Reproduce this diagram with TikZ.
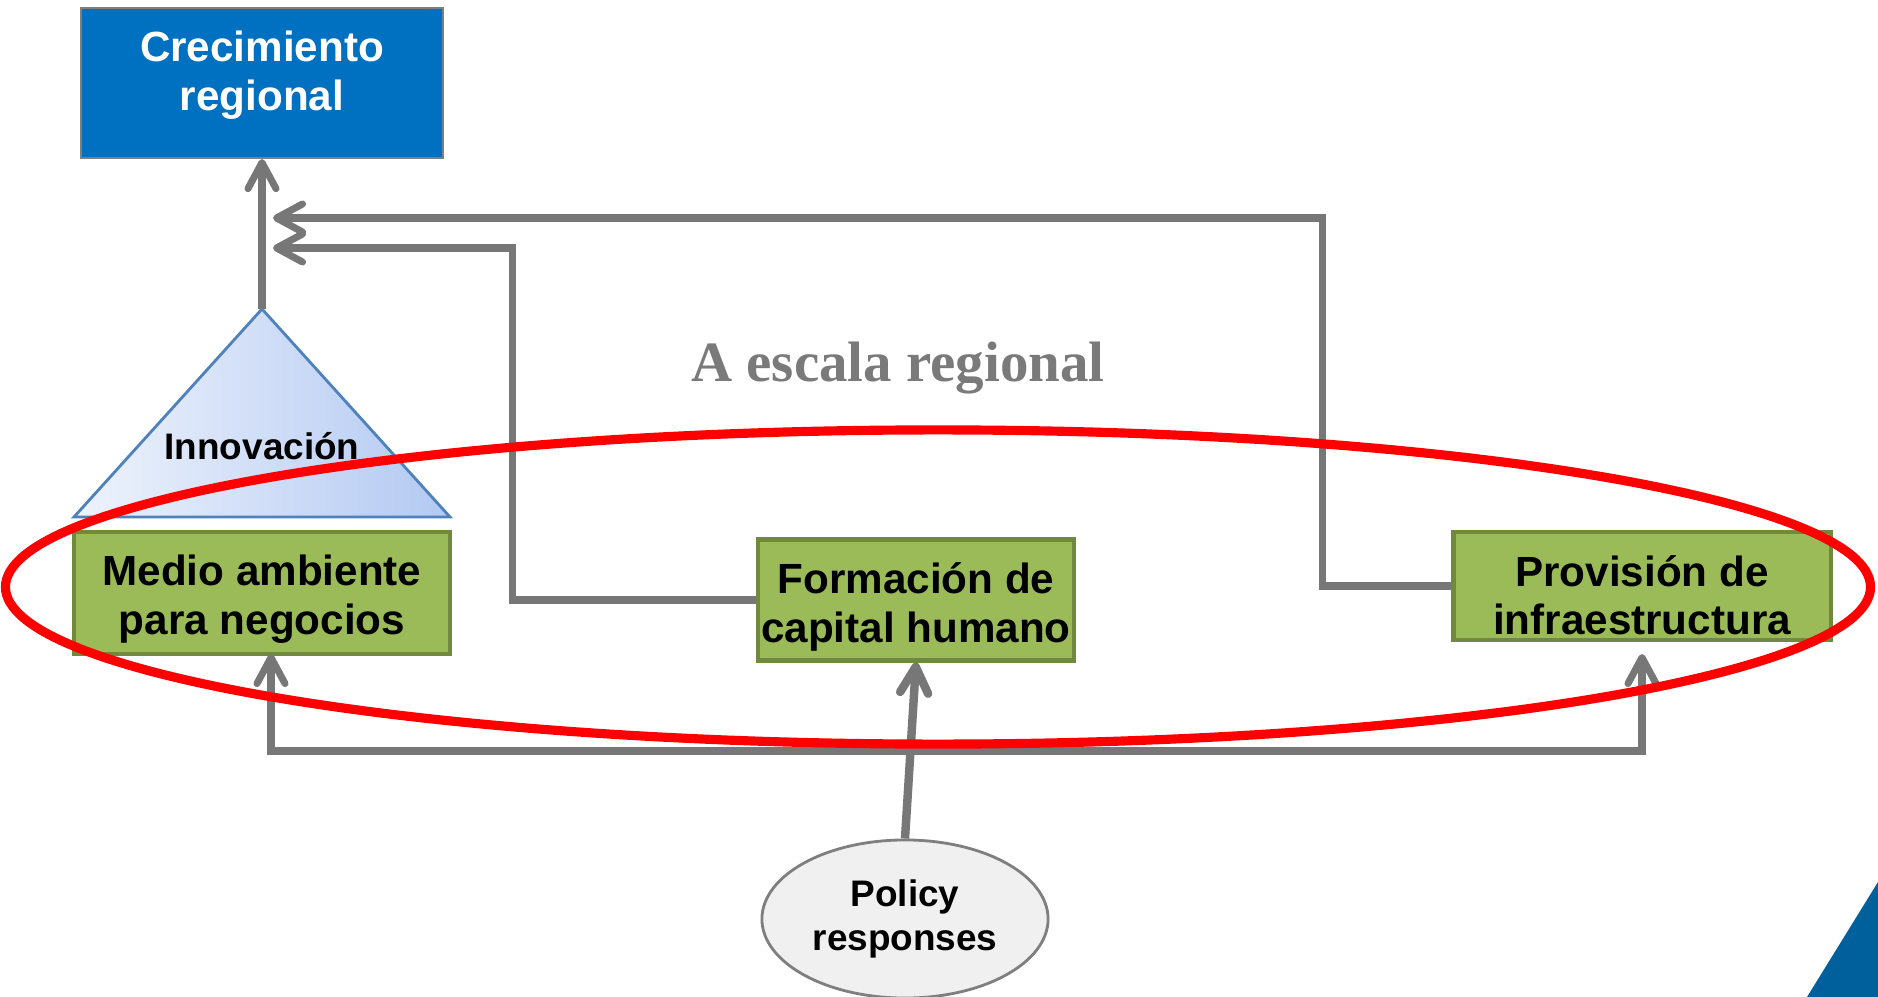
\documentclass[tikz,border=0pt]{standalone}
\usepackage{fontspec}
\setmainfont{Liberation Sans}
\newfontfamily\escala{Liberation Serif}
\usepackage{xcolor}
\definecolor{growblue}{HTML}{0070C0}
\definecolor{leaf}{HTML}{9BBB59}
\definecolor{leafedge}{HTML}{71893F}
\definecolor{flowgray}{HTML}{777777}
\definecolor{escgray}{HTML}{7A7A7A}
\definecolor{trilight}{HTML}{EEF3FC}
\definecolor{tridark}{HTML}{B3C9F2}
\definecolor{triedge}{HTML}{4F81BD}
\definecolor{polfill}{HTML}{F0F0F0}
\definecolor{poledge}{HTML}{7F7F7F}
\definecolor{corner}{HTML}{00609C}
\usetikzlibrary{arrows.meta,shapes.geometric}

\begin{document}
\begin{tikzpicture}[x=0.01cm, y=-0.01cm,
    >={Straight Barb[length=2.6mm,width=2.8mm,round]},
    flow/.style={draw=flowgray, line width=2pt},
    leafbox/.style={draw=leafedge, line width=1.2pt, fill=leaf, inner sep=0pt},
    boxtext/.style={align=center, inner sep=0pt, font=\fontsize{12}{13.8}\selectfont\bfseries},
    growbox/.style={draw=poledge, line width=0.6pt, fill=growblue,
      minimum width=3.62cm, minimum height=1.50cm},
    ring/.style={ellipse, draw=red, line width=2.6pt, inner sep=0pt}]
  \useasboundingbox (0,0) rectangle (1878,997);

  % goal
  \node[growbox] (grow) at (262,83) {};
  \node[boxtext, text=white] (growtext) at (262,75) {Crecimiento\\regional};

  % innovation triangle
  \coordinate (apex) at (262,309);
  \shadedraw[left color=trilight, right color=tridark, draw=triedge, line width=0.8pt]
    (apex) -- (450,517) -- (74,517) -- cycle;
  \node[font=\fontsize{10.5}{12}\selectfont\bfseries] (innov) at (262,446) {Innovación};

  % factors
  \node[leafbox, minimum width=3.76cm, minimum height=1.22cm] (medio) at (262,593) {};
  \node[leafbox, minimum width=3.16cm, minimum height=1.21cm] (form) at (916,600) {};
  \node[leafbox, minimum width=3.77cm, minimum height=1.08cm] (prov) at (1642,586) {};
  \node[boxtext] (mediotext) at (262,599) {Medio ambiente\\para negocios};
  \node[boxtext] (formtext) at (916,607) {Formación de\\capital humano};
  \node[boxtext] (provtext) at (1642,595) {Provisión de\\infraestructura};

  \node[text=escgray, font=\escala\fontsize{16.2}{19}\selectfont\bfseries] (scale) at (898,368) {A escala regional};

  \node[ellipse, draw=poledge, fill=polfill, line width=0.8pt, minimum width=2.86cm, minimum height=1.58cm,
    align=center, inner sep=0pt, font=\fontsize{10.5}{12.6}\selectfont\bfseries] (policy) at (905,919) {Policy\\responses};

  % connectors
  \coordinate (in1) at (273,218);
  \coordinate (in2) at (273,248);
  \coordinate (medtip) at (271,654);
  \coordinate (provtip) at (1642,654);
  \draw[flow,->] (apex) -- (grow.south);
  \draw[flow,->] (prov.west) -- ++(-129,0) |- (in1);
  \draw[flow,->] (form.west) -- ++(-243,0) |- (in2);
  \draw[flow,<->] (medtip) -- ++(0,97) -| (provtip);
  \draw[flow,->,line width=2.4pt] (policy.north) -- (form.south);

  % regional scope
  \node[ring, minimum width=18.64cm, minimum height=3.14cm] (ring) at (938,587) {};

  \fill[corner] (1807,997) -- (1878,882) -- (1878,997) -- cycle;
\end{tikzpicture}
\end{document}
